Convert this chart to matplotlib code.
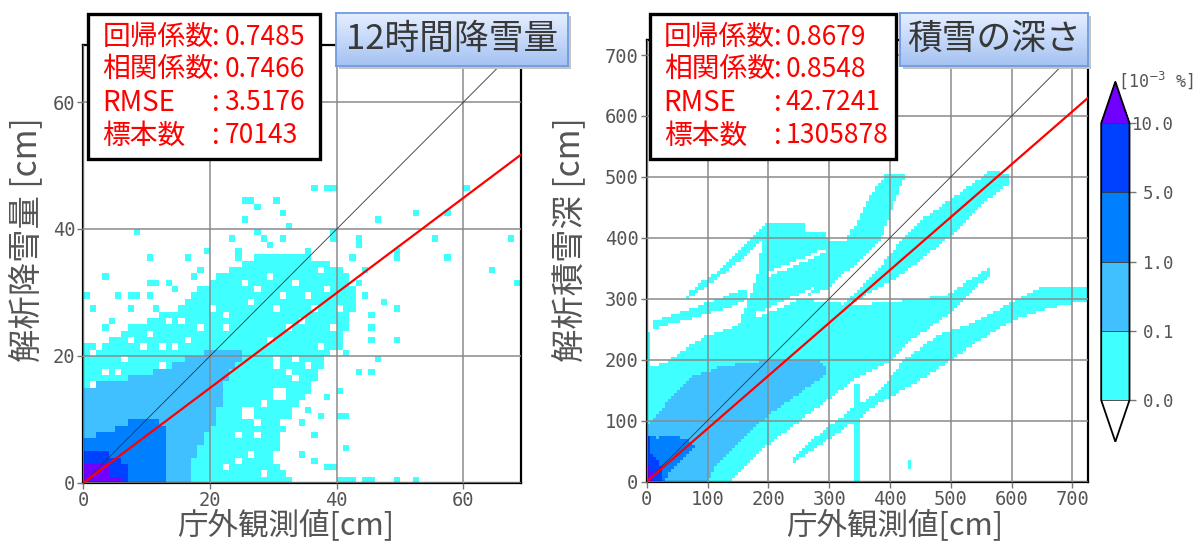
import numpy as np
import matplotlib.pyplot as plt
from matplotlib.path import Path
from matplotlib.colors import ListedColormap, BoundaryNorm, LinearSegmentedColormap
from matplotlib.patches import Rectangle
from matplotlib.cm import ScalarMappable

plt.rcParams['font.family'] = ['Noto Sans CJK JP', 'DejaVu Sans']

W, H = 1198, 542  # output size in px

# <codecell>
'''COLOUR CLASSES  [10^-3 %]'''
bounds = [0.0, 0.1, 1.0, 5.0, 10.0]
bound_labels = ['0.0', '0.1', '1.0', '5.0', '10.0']
class_colors = ['#40ffff', '#40c0ff', '#0080ff', '#0040ff']
over_color = '#7000ff'

# <codecell>
'''LEFT PANEL : 12h snowfall (1 cm bins), regions traced per class'''
left_title = '12時間降雪量'
left_xlabel = '庁外観測値[cm]'
left_ylabel = '解析降雪量 [cm]'
left_names = ['回帰係数', '相関係数', 'RMSE', '標本数']
left_values = ['0.7485', '0.7466', '3.5176', '70143']
left_slope = 0.7485
left_lim = 69
left_bin = 1
left_ticks = [0, 20, 40, 60]

left_level1 = [[(0, 0), (33, 0), (30, 3), (31, 7), (33, 11), (36, 15), (38, 19),
                (41, 23), (43, 28), (42, 33), (38, 35), (34, 36), (28, 36),
                (24, 34), (19, 31), (14, 27), (8, 25), (3, 22), (0, 22)]]
left_level2 = [[(0, 0), (17, 0), (17, 3), (18, 5), (19, 7), (21, 10), (22, 14),
                (23, 18), (25, 20), (25, 21), (20, 21), (15, 19), (13, 18),
                (9, 17), (5, 16), (0, 15)]]
left_level3 = [[(0, 0), (13, 0), (13, 7), (12, 10), (9, 10.2), (6, 8.8),
                (3, 7.8), (0, 6.8)]]
left_level4 = [[(0, 0), (7, 0), (7, 2), (6, 4), (4, 4), (3, 5), (0, 5)]]
left_level5 = [[(0, 0), (6, 0), (6, 1), (4, 1), (4, 3), (0, 3)]]
left_hole_polys = []
# empty cells inside the cyan area (x, y in cm)
left_holes = [(3, 17), (5, 17), (6, 19), (12, 18), (1, 15), (4, 14), (3, 11),
              (14, 21), (12, 21), (9, 21), (7, 22), (2, 21), (18, 24), (22, 24),
              (25, 11), (26, 11), (25, 10), (26, 10), (30, 13), (31, 13),
              (30, 14), (31, 14), (28, 12), (24, 7), (27, 7), (26, 4), (24, 3),
              (22, 2), (28, 1), (30, 4), (30, 19), (30, 18), (33, 19), (32, 17),
              (33, 16), (36, 14), (34, 11), (31, 9), (32, 7), (33, 6), (27, 9),
              (29, 32), (27, 30), (31, 29), (33, 31), (35, 29), (30, 27),
              (26, 28), (36, 27), (34, 25), (22, 26), (20, 27), (15, 25),
              (13, 25), (9, 25), (5, 23), (10, 23), (1, 20), (38, 30), (40, 27),
              (39, 24), (37, 21), (35, 18), (29, 22), (32, 24), (25, 31),
              (37, 33), (16, 22)]
# isolated occupied cells outside the main area
left_cells = [(36, 46), (38, 46), (39, 46), (25, 44), (26, 44), (30, 44),
              (27, 43), (31, 42), (25, 41), (46, 41), (32, 40), (8, 39),
              (27, 39), (23, 38), (28, 38), (31, 38), (29, 37), (39, 39),
              (39, 38), (43, 38), (43, 37), (19, 36), (24, 36), (24, 35),
              (35, 36), (10, 35), (16, 35), (18, 33), (3, 32), (17, 32),
              (10, 31), (11, 31), (13, 31), (14, 30), (0, 29), (5, 29),
              (7, 29), (8, 29), (10, 29), (1, 27), (7, 27), (11, 27), (3, 24),
              (4, 25), (52, 42), (60, 46), (57, 42), (55, 38), (67, 38),
              (57, 35), (64, 33), (68, 31), (49, 36), (49, 35), (47, 28),
              (49, 27), (45, 26), (45, 24), (45, 22), (49, 22), (46, 19),
              (43, 17), (45, 17), (41, 5), (49, 0), (52, 0), (44, 0), (45, 0),
              (41, 0), (42, 0), (38, 2), (34, 9), (36, 7), (34, 4), (36, 3),
              (39, 2), (40, 0), (33, 12), (35, 11), (37, 10), (38, 13),
              (40, 14), (40, 10), (41, 10), (41, 20), (40, 21), (40, 22),
              (43, 31), (44, 33), (42, 35), (44, 29)]

# <codecell>
'''RIGHT PANEL : snow depth (5 cm bins), regions traced per class'''
right_title = '積雪の深さ'
right_xlabel = '庁外観測値[cm]'
right_ylabel = '解析積雪深 [cm]'
right_names = ['回帰係数', '相関係数', 'RMSE', '標本数']
right_values = ['0.8679', '0.8548', '42.7241', '1305878']
right_slope = 0.8679
right_lim = 725
right_bin = 5
right_ticks = [0, 100, 200, 300, 400, 500, 600, 700]

right_level1 = [
    [(0, 0), (138, 0), (182, 46), (231, 85), (300, 135), (352, 175), (401, 197),
     (434, 230), (494, 273), (565, 339), (565, 352), (494, 306), (396, 295),
     (340, 290), (300, 295), (250, 300), (200, 285), (165, 270), (148, 255),
     (100, 240), (60, 215), (30, 195), (0, 185)],
    [(148, 250), (165, 293), (181, 332), (190, 395), (188, 405), (195, 426),
     (258, 426), (260, 410), (292, 410), (300, 398), (325, 393), (346, 426),
     (368, 470), (393, 505), (426, 505), (407, 459), (396, 426), (385, 400),
     (360, 372), (330, 345), (300, 318), (250, 300), (200, 285), (165, 270)],
    [(320, 285), (401, 328), (434, 350), (472, 382), (494, 399), (538, 443),
     (595, 489), (593, 505), (565, 510), (494, 459), (456, 432), (425, 405),
     (400, 372), (370, 335), (335, 305)],
    [(66, 300), (110, 328), (165, 372), (190, 400), (190, 415), (160, 385),
     (110, 340), (70, 312)],
    [(10, 250), (82, 270), (143, 288), (165, 300), (165, 318), (143, 310),
     (82, 287), (10, 262)],
    [(0, 180), (6, 180), (6, 245), (0, 245)],
    [(240, 30), (300, 70), (385, 130), (440, 160), (500, 200), (592, 260),
     (660, 285), (725, 298), (725, 318), (652, 322), (592, 290), (540, 262),
     (480, 240), (423, 200), (385, 150), (300, 92), (245, 45)],
    [(340, 0), (352, 0), (352, 158), (340, 158)],
    [(428, 18), (437, 18), (437, 36), (428, 36)],
]
right_level2 = [[(0, 0), (100, 0), (110, 20), (138, 52), (176, 90), (230, 130),
                 (280, 165), (297, 180), (285, 202), (187, 198), (121, 189),
                 (77, 173), (38, 134), (0, 90)]]
right_level3 = [[(0, 0), (28, 0), (35, 10), (55, 31), (82, 58), (70, 68),
                 (40, 76), (15, 72), (0, 75)]]
right_level4 = [[(0, 0), (25, 0), (25, 20), (15, 40), (5, 45), (5, 75), (0, 75)]]
right_level5 = [[(0, 0), (10, 0), (10, 10), (5, 20), (0, 25)]]
right_hole_polys = [[(180, 268), (230, 290), (275, 314), (278, 322), (230, 299),
                     (178, 276)],
                    [(200, 335), (295, 376), (297, 384), (200, 343)]]
right_holes = []
right_cells = []


# <codecell>
def fx(x):
    return x / W


def fy(y):
    return 1 - y / H


def level_grid(lim, size, levels, hole_polys, holes, cells):
    n = int(np.ceil(lim / size))
    c = (np.arange(n) + 0.5) * size
    X, Y = np.meshgrid(c, c)
    pts = np.column_stack([X.ravel(), Y.ravel()])
    g = np.zeros(n * n)
    for poly in levels[0]:
        g[Path(poly).contains_points(pts)] = 1
    for poly in hole_polys:
        g[Path(poly).contains_points(pts)] = 0
    g = g.reshape(n, n)
    for x, y in holes:
        g[int(y // size), int(x // size)] = 0
    for x, y in cells:
        g[int(y // size), int(x // size)] = 1
    g = g.ravel()
    for k, polys in enumerate(levels[1:], start=2):
        for poly in polys:
            g[Path(poly).contains_points(pts)] = k
    return np.arange(n + 1) * size, g.reshape(n, n)


grid_cmap = ListedColormap(class_colors + [over_color])
grid_norm = BoundaryNorm([0.5, 1.5, 2.5, 3.5, 4.5, 5.5], 5)


def draw_panel(ax, lim, size, levels, hole_polys, holes, cells, slope, ticks):
    edges, g = level_grid(lim, size, levels, hole_polys, holes, cells)
    ax.pcolormesh(edges, edges, np.ma.masked_equal(g, 0),
                  cmap=grid_cmap, norm=grid_norm, zorder=1)
    ax.plot([0, lim], [0, lim], color='#333333', lw=0.6, zorder=3)
    ax.plot([0, lim], [0, slope * lim], color='red', lw=1.6, zorder=3)
    ax.set_xlim(0, lim)
    ax.set_ylim(0, lim)
    ax.set_xticks(ticks)
    ax.set_yticks(ticks)
    ax.set_axisbelow(False)
    ax.grid(True, color='#8a8a8a', lw=1.1)
    ax.tick_params(direction='out', length=4, width=1, color='#777777',
                   labelcolor='#555555', labelsize=13.5, pad=2)
    for lab in ax.get_xticklabels() + ax.get_yticklabels():
        lab.set_fontfamily('DejaVu Sans Mono')
    for s in ax.spines.values():
        s.set_linewidth(1.6)
        s.set_color('black')


def stats_box(x0, x1, tx, cx, names, values):
    fig.add_artist(Rectangle((fx(x0), fy(158.5)), (x1 - x0) / W, 144.5 / H,
                             transform=fig.transFigure, facecolor='white',
                             edgecolor='black', lw=2.4, zorder=5))
    for row, (name, val) in zip([37.3, 69.1, 103, 135.5], zip(names, values)):
        fig.text(fx(tx), fy(row), name, color='red', fontsize=20,
                 va='center', ha='left', zorder=6)
        fig.text(fx(cx), fy(row), ':', color='red', fontsize=20,
                 va='center', ha='left', zorder=6)
        fig.text(fx(cx + 12.4), fy(row), val, color='red', fontsize=19,
                 va='center', ha='left', zorder=6)


title_cmap = LinearSegmentedColormap.from_list('tb', ['#e6efff', '#a5c2f2'])


def title_box(x0, x1, text):
    y0, y1 = 13, 66.4
    fig.add_artist(Rectangle((fx(x0 + 3), fy(y1 + 3)), (x1 - x0) / W,
                             (y1 - y0) / H, transform=fig.transFigure,
                             facecolor='#c4c4c4', edgecolor='none', zorder=6))
    tax = fig.add_axes([fx(x0), fy(y1), (x1 - x0) / W, (y1 - y0) / H])
    tax.set_zorder(7)
    tax.imshow(np.linspace(0, 1, 60)[:, None], cmap=title_cmap,
               aspect='auto', extent=[0, 1, 0, 1])
    tax.set_xticks([])
    tax.set_yticks([])
    for s in tax.spines.values():
        s.set_color('#6f9be0')
        s.set_linewidth(1.3)
    tax.text(0.5, 0.5, text, ha='center', va='center', fontsize=25,
             color='#383838', transform=tax.transAxes)


# <codecell>
'''FIGURE'''
fig = plt.figure(figsize=(W / 100, H / 100), dpi=100)

ax1 = fig.add_axes([fx(83.4), fy(482.9), 437.1 / W, 438 / H])
draw_panel(ax1, left_lim, left_bin,
           [left_level1, left_level2, left_level3, left_level4, left_level5],
           left_hole_polys, left_holes, left_cells, left_slope, left_ticks)

ax2 = fig.add_axes([fx(646.7), fy(481.5), 441 / W, 441.7 / H])
draw_panel(ax2, right_lim, right_bin,
           [right_level1, right_level2, right_level3, right_level4, right_level5],
           right_hole_polys, right_holes, right_cells, right_slope, right_ticks)

# axis labels
fig.text(fx(26.8), fy(240), left_ylabel, rotation=90, fontsize=24,
         color='#555555', ha='center', va='center')
fig.text(fx(286), fy(541), left_xlabel, fontsize=22, color='#555555',
         ha='center', va='bottom')
fig.text(fx(570), fy(240), right_ylabel, rotation=90, fontsize=24,
         color='#555555', ha='center', va='center')
fig.text(fx(895), fy(541), right_xlabel, fontsize=22, color='#555555',
         ha='center', va='bottom')

stats_box(88, 320, 102.6, 212, left_names, left_values)
stats_box(649.5, 895.6, 663.7, 773.6, right_names, right_values)
title_box(335.6, 568.3, left_title)
title_box(899.7, 1088, right_title)

# colour bar
cax = fig.add_axes([fx(1101.2), fy(441.7), 28.3 / W, 360 / H])
bar_cmap = ListedColormap(class_colors)
bar_cmap.set_over(over_color)
bar_cmap.set_under('white')
sm = ScalarMappable(norm=BoundaryNorm(bounds, len(class_colors)), cmap=bar_cmap)
cb = fig.colorbar(sm, cax=cax, extend='both', extendfrac=0.15,
                  spacing='uniform', ticks=bounds, drawedges=True)
cb.outline.set_linewidth(1.3)
cb.outline.set_edgecolor('black')
cb.dividers.set_color('#333333')
cb.dividers.set_linewidth(0.6)
cb.ax.set_yticklabels(bound_labels)
cb.ax.tick_params(length=4, width=1, color='#777777', labelcolor='#555555',
                  labelsize=12.5, pad=28)
for lab in cb.ax.get_yticklabels():
    lab.set_fontfamily('DejaVu Sans Mono')
    lab.set_horizontalalignment('right')
fig.text(fx(1118), fy(80), r'[10$^{-3}$ %]', fontfamily='DejaVu Sans Mono',
         fontsize=12, color='#555555', va='center', ha='left')

fig.savefig('out.png', dpi=100)
